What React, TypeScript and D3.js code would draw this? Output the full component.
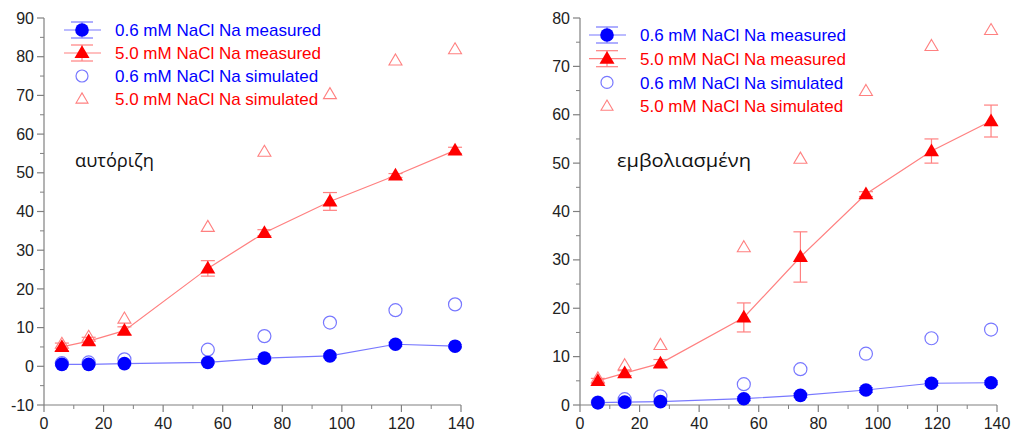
import * as d3 from 'd3';

// shared x positions (days)
const xDays = [6, 15, 27, 55, 74, 96, 118, 138];

// left panel: αυτόριζη
const leftBlueMeasured = [0.5, 0.5, 0.7, 1.0, 2.1, 2.7, 5.7, 5.2];
const leftBlueErr = [0.3, 0.3, 0.3, 0.3, 0.4, 0.5, 0.5, 0.4];
const leftRedMeasured = [5.0, 6.5, 9.2, 25.3, 34.5, 42.6, 49.3, 55.8];
const leftRedErr = [1.0, 1.0, 1.0, 2.0, 0.8, 2.3, 0.5, 0.8];
const leftBlueSim = [0.8, 1.0, 1.8, 4.3, 7.8, 11.3, 14.5, 16.0];
const leftRedSim = [5.8, 7.6, 12.3, 36.0, 55.4, 70.3, 79.0, 81.9];

// right panel: εμβολιασμένη
const rightBlueMeasured = [0.5, 0.6, 0.7, 1.3, 2.0, 3.1, 4.5, 4.6];
const rightBlueErr = [0.3, 0.3, 0.3, 0.4, 0.4, 0.5, 0.5, 0.4];
const rightRedMeasured = [5.0, 6.6, 8.6, 18.1, 30.6, 43.6, 52.5, 58.7];
const rightRedErr = [0.5, 0.5, 0.8, 3.0, 5.2, 0.5, 2.5, 3.3];
const rightBlueSim = [0.5, 1.2, 1.8, 4.3, 7.4, 10.6, 13.8, 15.6];
const rightRedSim = [5.5, 8.2, 12.4, 32.6, 50.9, 64.9, 74.2, 77.5];

const legendLabels = [
  '0.6 mM NaCl Na measured',
  '5.0 mM NaCl Na measured',
  '0.6 mM NaCl Na simulated',
  '5.0 mM NaCl Na simulated',
];

const BLUE = '#0000ff';
const BLUE_LIGHT = '#7878ff';
const RED = '#ff0000';
const RED_LIGHT = '#ff8080';
const AXIS = '#808080';
const TEXT = '#222';
const FONT = 'Liberation Sans, Arial, sans-serif';

type PanelProps = {
  left: number;
  right: number;
  top: number;
  bottom: number;
  yMin: number;
  yMax: number;
  title: string;
  titleX: number;
  titleY: number;
  titleW: number;
  legendX: number;
  legendY: number;
  legendStep: number;
  blueM: number[];
  blueE: number[];
  redM: number[];
  redE: number[];
  blueS: number[];
  redS: number[];
};

// triangle of width s, height 0.85*s, centred on its centroid
const tri = (cx: number, cy: number, s: number) => {
  const h = s * 0.85;
  return `M${cx},${cy - h * 0.6} L${cx + s / 2},${cy + h * 0.4} L${cx - s / 2},${cy + h * 0.4} Z`;
};

const Panel = (p: PanelProps) => {
  const x = d3.scaleLinear().domain([0, 140]).range([p.left, p.right]);
  const y = d3.scaleLinear().domain([p.yMin, p.yMax]).range([p.bottom, p.top]);
  const xMajor = d3.range(0, 141, 20);
  const xMinor = d3.range(10, 141, 20);
  const yMajor = d3.range(p.yMin, p.yMax + 1, 10);
  const yMinor = d3.range(p.yMin + 5, p.yMax, 10);
  const line = d3
    .line<number>()
    .x((_, i) => x(xDays[i]))
    .y((d) => y(d));
  const capW = 7;

  return (
    <g fontFamily={FONT}>
      {/* axes */}
      <line x1={p.left} x2={p.left} y1={p.top} y2={p.bottom} stroke={AXIS} strokeWidth={1.2} />
      <line x1={p.left} x2={p.right} y1={p.bottom} y2={p.bottom} stroke={AXIS} strokeWidth={1.2} />
      {yMajor.map((t) => (
        <g key={'ym' + t}>
          <line x1={p.left - 7} x2={p.left} y1={y(t)} y2={y(t)} stroke={AXIS} strokeWidth={1.2} />
          <text x={p.left - 10} y={y(t)} dy="0.35em" textAnchor="end" fontSize={16} fill={TEXT}>
            {t}
          </text>
        </g>
      ))}
      {yMinor.map((t) => (
        <line key={'yn' + t} x1={p.left - 4} x2={p.left} y1={y(t)} y2={y(t)} stroke={AXIS} strokeWidth={1} />
      ))}
      {xMajor.map((t) => (
        <g key={'xm' + t}>
          <line x1={x(t)} x2={x(t)} y1={p.bottom} y2={p.bottom + 7} stroke={AXIS} strokeWidth={1.2} />
          <text x={x(t)} y={p.bottom + 24} textAnchor="middle" fontSize={16} fill={TEXT}>
            {t}
          </text>
        </g>
      ))}
      {xMinor.map((t) => (
        <line key={'xn' + t} x1={x(t)} x2={x(t)} y1={p.bottom} y2={p.bottom + 4} stroke={AXIS} strokeWidth={1} />
      ))}

      {/* annotation */}
      <text
        x={p.titleX}
        y={p.titleY}
        fontSize={18}
        fontFamily="Open Sans, Noto Sans, sans-serif"
        textLength={p.titleW}
        lengthAdjust="spacingAndGlyphs"
        fill="#111"
      >
        {p.title}
      </text>

      {/* simulated */}
      {p.blueS.map((v, i) => (
        <circle key={'bs' + i} cx={x(xDays[i])} cy={y(v)} r={6.5} fill="none" stroke={BLUE_LIGHT} strokeWidth={1.2} />
      ))}
      {p.redS.map((v, i) => (
        <path key={'rs' + i} d={tri(x(xDays[i]), y(v), 13)} fill="none" stroke={RED_LIGHT} strokeWidth={1.1} />
      ))}

      {/* measured lines */}
      <path d={line(p.blueM) ?? ''} fill="none" stroke={BLUE_LIGHT} strokeWidth={1.2} />
      <path d={line(p.redM) ?? ''} fill="none" stroke={RED_LIGHT} strokeWidth={1.2} />

      {/* error bars */}
      {p.redM.map((v, i) => {
        const cx = x(xDays[i]);
        const y0 = y(v - p.redE[i]);
        const y1 = y(v + p.redE[i]);
        return (
          <g key={'re' + i} stroke={RED_LIGHT} strokeWidth={1.2}>
            <line x1={cx} x2={cx} y1={y0} y2={y1} />
            <line x1={cx - capW} x2={cx + capW} y1={y0} y2={y0} />
            <line x1={cx - capW} x2={cx + capW} y1={y1} y2={y1} />
          </g>
        );
      })}
      {p.blueM.map((v, i) => {
        const cx = x(xDays[i]);
        const y0 = y(v - p.blueE[i]);
        const y1 = y(v + p.blueE[i]);
        return (
          <g key={'be' + i} stroke={BLUE_LIGHT} strokeWidth={1.2}>
            <line x1={cx} x2={cx} y1={y0} y2={y1} />
            <line x1={cx - capW} x2={cx + capW} y1={y0} y2={y0} />
            <line x1={cx - capW} x2={cx + capW} y1={y1} y2={y1} />
          </g>
        );
      })}

      {/* measured markers */}
      {p.blueM.map((v, i) => (
        <circle key={'bm' + i} cx={x(xDays[i])} cy={y(v)} r={6.8} fill={BLUE} />
      ))}
      {p.redM.map((v, i) => (
        <path key={'rm' + i} d={tri(x(xDays[i]), y(v), 15)} fill={RED} />
      ))}

      {/* legend */}
      {legendLabels.map((lab, i) => {
        const ly = p.legendY + i * p.legendStep;
        const mx = p.legendX;
        const col = i % 2 === 0 ? BLUE : RED;
        const light = i % 2 === 0 ? BLUE_LIGHT : RED_LIGHT;
        return (
          <g key={'lg' + i}>
            {i < 2 && (
              <g stroke={light} strokeWidth={1.2}>
                <line x1={mx - 18} x2={mx + 19} y1={ly} y2={ly} />
                <line x1={mx} x2={mx} y1={ly - 8} y2={ly + 8} />
                <line x1={mx - 11} x2={mx + 11} y1={ly - 8} y2={ly - 8} />
                <line x1={mx - 11} x2={mx + 11} y1={ly + 8} y2={ly + 8} />
              </g>
            )}
            {i === 0 && <circle cx={mx} cy={ly} r={6.8} fill={BLUE} />}
            {i === 1 && <path d={tri(mx, ly, 15)} fill={RED} />}
            {i === 2 && <circle cx={mx} cy={ly} r={6} fill="none" stroke={BLUE_LIGHT} strokeWidth={1.2} />}
            {i === 3 && <path d={tri(mx, ly, 12)} fill="none" stroke={RED_LIGHT} strokeWidth={1.1} />}
            <text x={mx + 33} y={ly} dy="0.36em" fontSize={17} fill={col}>
              {lab}
            </text>
          </g>
        );
      })}
    </g>
  );
};

export default function App() {
  return (
    <svg
      width={1012}
      height={437}
      style={{ position: 'absolute', left: 0, top: 0, background: '#fff' }}
    >
      <rect width={1012} height={437} fill="#fff" />
      <Panel
        left={44}
        right={461}
        top={18}
        bottom={405}
        yMin={-10}
        yMax={90}
        title="αυτόριζη"
        titleX={75}
        titleY={167}
        titleW={79}
        legendX={82}
        legendY={30}
        legendStep={23}
        blueM={leftBlueMeasured}
        blueE={leftBlueErr}
        redM={leftRedMeasured}
        redE={leftRedErr}
        blueS={leftBlueSim}
        redS={leftRedSim}
      />
      <Panel
        left={580}
        right={997}
        top={18}
        bottom={405}
        yMin={0}
        yMax={80}
        title="εμβολιασμένη"
        titleX={617}
        titleY={167}
        titleW={134}
        legendX={607}
        legendY={35}
        legendStep={23.7}
        blueM={rightBlueMeasured}
        blueE={rightBlueErr}
        redM={rightRedMeasured}
        redE={rightRedErr}
        blueS={rightBlueSim}
        redS={rightRedSim}
      />
    </svg>
  );
}
